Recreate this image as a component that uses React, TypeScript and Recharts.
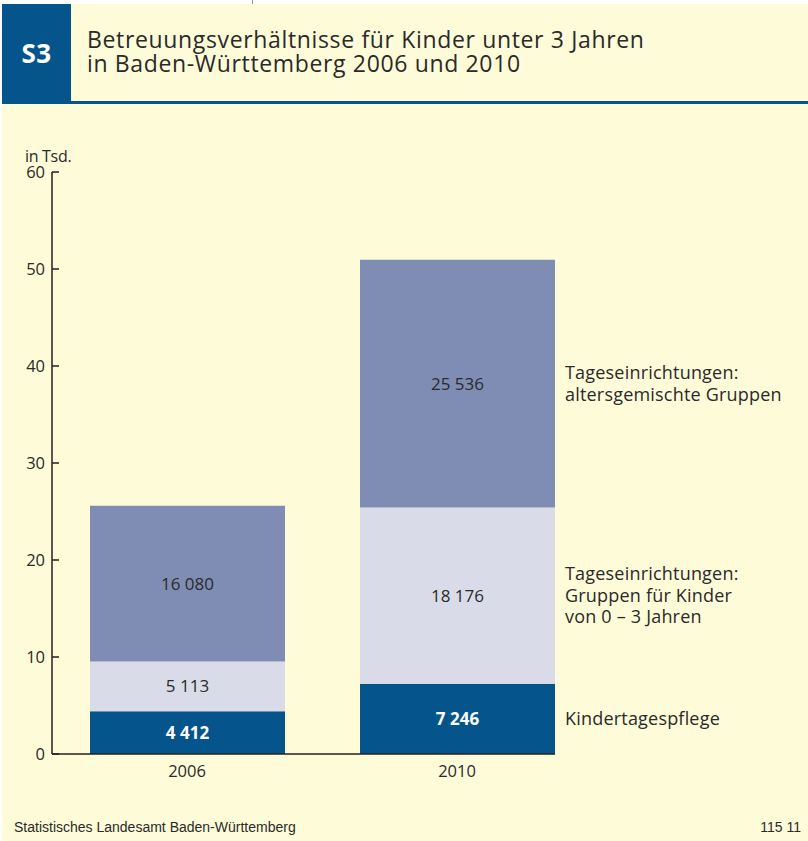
import React from "react";
import { Bar, BarChart, LabelList, XAxis, YAxis } from "recharts";

// Betreuungsverhältnisse für Kinder unter 3 Jahren, Baden-Württemberg
const years = ["2006", "2010"];
const tagespflege = [4412, 7246];
const gruppen0bis3 = [5113, 18176];
const altersgemischt = [16080, 25536];
const yTicks = [0, 10000, 20000, 30000, 40000, 50000, 60000];

const sideTagespflege = ["Kindertagespflege"];
const sideGruppen = ["Tageseinrichtungen:", "Gruppen für Kinder", "von 0 – 3 Jahren"];
const sideAlters = ["Tageseinrichtungen:", "altersgemischte Gruppen"];

const data = years.map((year, i) => ({
  year,
  tagespflege: tagespflege[i],
  gruppen: gruppen0bis3[i],
  alters: altersgemischt[i],
}));

const BG = "#fefbd9";
const BLUE = "#05558c";
const LILAC = "#d9dbe8";
const MID = "#7f8db5";
const TEXT = "#2a2a2a";
const FONT = "'Open Sans', 'Noto Sans', sans-serif";
const FOOT = "'Liberation Sans', Arial, sans-serif";

const fmt = (v: any) =>
  String(v).replace(/\B(?=(\d{3})+(?!\d))/g, " ");

// Beschriftung rechts neben dem letzten Balken, mittig zum Segment
const sideLabel = (lines: string[]) => (props: any) => {
  const vb = props.viewBox || {};
  const x = props.x ?? vb.x;
  const y = props.y ?? vb.y;
  const width = props.width ?? vb.width;
  const height = props.height ?? vb.height;
  if (props.index !== years.length - 1) return null;
  const tx = x + width + 10;
  const lh = 21.5;
  const top = y + height / 2 - ((lines.length - 1) * lh) / 2;
  return (
    <text fontSize={18} fill={TEXT} fontFamily={FONT} letterSpacing={0.2}>
      {lines.map((l, i) => (
        <tspan key={i} x={tx} y={top + i * lh} dy="0.35em">
          {l}
        </tspan>
      ))}
    </text>
  );
};

export default function App() {
  return (
    <div
      style={{
        position: "absolute",
        left: 0,
        top: 0,
        width: 808,
        height: 841,
        background: "#ffffff",
        fontFamily: FONT,
        overflow: "hidden",
      }}
    >
      <div style={{ position: "absolute", left: 252, top: 0, width: 1, height: 4, background: "#999" }} />
      <div style={{ position: "absolute", left: 2, top: 4, right: 0, bottom: 0, background: BG }} />
      <div
        style={{
          position: "absolute",
          left: 2,
          top: 4,
          width: 69,
          height: 97,
          background: BLUE,
          color: "#fff",
          fontWeight: 700,
          fontSize: 26,
          letterSpacing: 0.5,
          display: "flex",
          alignItems: "center",
          justifyContent: "center",
        }}
      >
        S3
      </div>
      <div style={{ position: "absolute", left: 2, top: 101, right: 0, height: 2.5, background: BLUE }} />
      <div
        style={{
          position: "absolute",
          left: 87,
          top: 27,
          fontSize: 23,
          lineHeight: "24px",
          letterSpacing: 0.65,
          color: TEXT,
          whiteSpace: "nowrap",
        }}
      >
        Betreuungsverhältnisse für Kinder unter 3 Jahren
        <br />
        in Baden-Württemberg 2006 und 2010
      </div>
      <div
        style={{
          position: "absolute",
          left: 25,
          top: 148,
          fontSize: 16,
          lineHeight: "16px",
          letterSpacing: -0.3,
          color: TEXT,
        }}
      >
        in Tsd.
      </div>

      <div style={{ position: "absolute", left: 0, top: 0 }}>
        <BarChart
          width={808}
          height={800}
          data={data}
          margin={{ top: 172, left: 7, right: 253, bottom: 16 }}
          barSize={195}
        >
          <XAxis
            dataKey="year"
            height={30}
            padding={{ left: 0, right: -37 }}
            tickLine={false}
            tickSize={0}
            tickMargin={11}
            axisLine={{ stroke: "#222", strokeWidth: 1.5 }}
            tick={{ fill: TEXT, fontSize: 16.5, fontFamily: FONT }}
          />
          <YAxis
            width={45}
            domain={[0, 60000]}
            ticks={yTicks}
            interval={0}
            tickFormatter={(v: number) => String(v / 1000)}
            tickSize={-7}
            tickMargin={14}
            tickLine={{ stroke: "#222", strokeWidth: 1.5 }}
            axisLine={{ stroke: "#222", strokeWidth: 1.5 }}
            tick={{ fill: TEXT, fontSize: 16.5, fontFamily: FONT }}
          />
          <Bar dataKey="tagespflege" stackId="s" fill={BLUE} isAnimationActive={false}>
            <LabelList
              dataKey="tagespflege"
              position="center"
              formatter={fmt}
              fill="#ffffff"
              fontWeight={700}
              fontSize={17}
              fontFamily={FONT}
            />
            <LabelList dataKey="tagespflege" content={sideLabel(sideTagespflege)} />
          </Bar>
          <Bar dataKey="gruppen" stackId="s" fill={LILAC} isAnimationActive={false}>
            <LabelList
              dataKey="gruppen"
              position="center"
              formatter={fmt}
              fill={TEXT}
              fontSize={17}
              fontFamily={FONT}
            />
            <LabelList dataKey="gruppen" content={sideLabel(sideGruppen)} />
          </Bar>
          <Bar dataKey="alters" stackId="s" fill={MID} isAnimationActive={false}>
            <LabelList
              dataKey="alters"
              position="center"
              formatter={fmt}
              fill={TEXT}
              fontSize={17}
              fontFamily={FONT}
            />
            <LabelList dataKey="alters" content={sideLabel(sideAlters)} />
          </Bar>
        </BarChart>
      </div>

      <div
        style={{
          position: "absolute",
          left: 14,
          top: 819,
          fontSize: 14,
          lineHeight: "16px",
          color: TEXT,
          fontFamily: FOOT,
        }}
      >
        Statistisches Landesamt Baden-Württemberg
      </div>
      <div
        style={{
          position: "absolute",
          right: 7,
          top: 819,
          fontSize: 14,
          lineHeight: "16px",
          color: TEXT,
          fontFamily: FOOT,
        }}
      >
        115 11
      </div>
    </div>
  );
}
